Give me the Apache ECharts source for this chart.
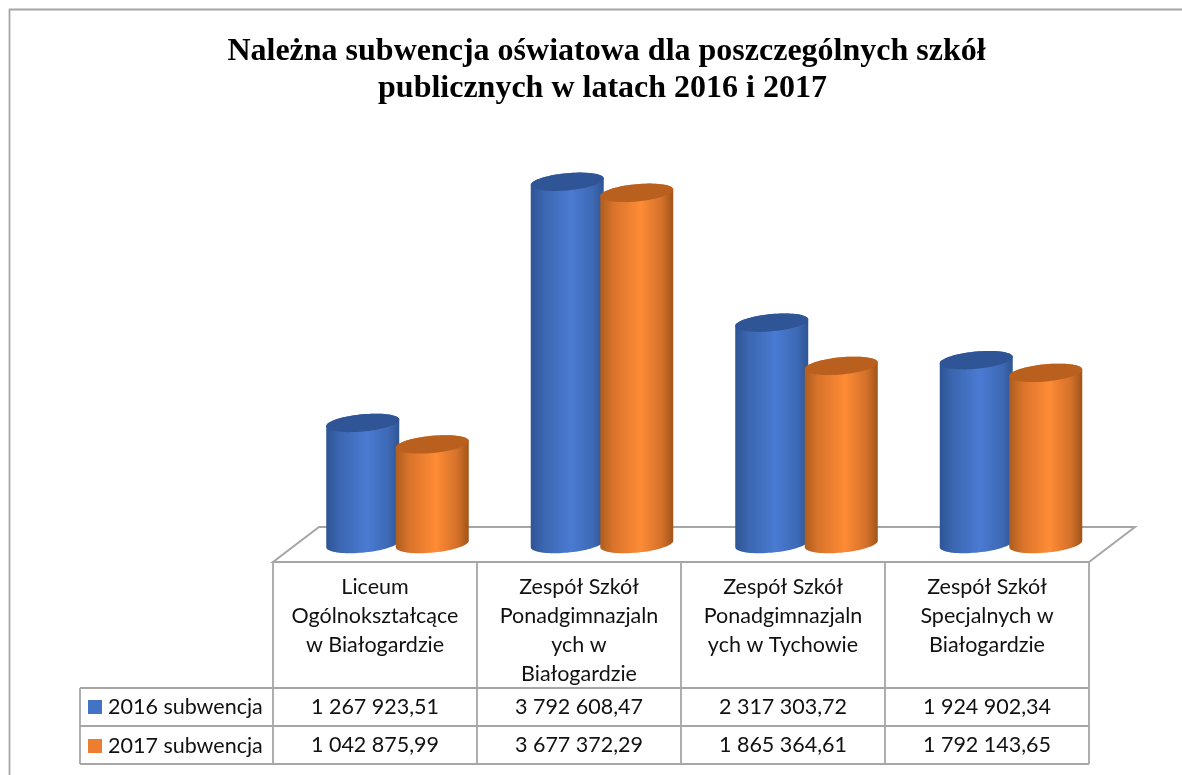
<!DOCTYPE html>
<html lang="pl">
<head>
<meta charset="utf-8">
<style>html,body{margin:0;padding:0;background:#fff}#c{width:1182px;height:775px}</style>
<script src="https://cdn.jsdelivr.net/npm/echarts@6/dist/echarts.min.js"></script>
</head>
<body>
<div id="c"></div>
<script>
const titleLines = ['Należna subwencja oświatowa dla poszczególnych szkół', 'publicznych w latach 2016 i 2017 '];
const categories = [
  'Liceum\nOgólnokształcące\nw Białogardzie',
  'Zespół Szkół\nPonadgimnazjaln\nych w\nBiałogardzie',
  'Zespół Szkół\nPonadgimnazjaln\nych w Tychowie',
  'Zespół Szkół\nSpecjalnych w\nBiałogardzie'
];
const seriesNames = ['2016 subwencja', '2017 subwencja'];
const values2016 = [1267923.51, 3792608.47, 2317303.72, 1924902.34];
const values2017 = [1042875.99, 3677372.29, 1865364.61, 1792143.65];

const GRID = '#a6a6a6';
const FONT = 'Lato, "Open Sans", sans-serif';
const TEXT = '#111';
const colX = [273, 477, 681, 885, 1089];
const rowY = [562, 688, 726, 764];
const legendLeft = 80;

function fmt(v) {
  const [i, d] = v.toFixed(2).split('.');
  return i.replace(/\B(?=(\d{3})+$)/g, ' ') + ',' + d;
}

function cylinder(values, side, stops, topColor) {
  return function (params, api) {
    const band = api.size([1, 0])[0];
    const top = api.coord([api.value(0), api.value(1)]);
    const base = api.coord([api.value(0), 0]);
    const cx = top[0] + side * 0.17 * band;
    const a = 0.1792 * band, b = 0.042 * band, th = 5.4 * Math.PI / 180;
    const t0 = Math.atan(b * Math.tan(th) / a);
    const pt = (cy, t) => [
      cx + a * Math.cos(t) * Math.cos(th) + b * Math.sin(t) * Math.sin(th),
      cy - a * Math.cos(t) * Math.sin(th) + b * Math.sin(t) * Math.cos(th)
    ];
    const N = 40, body = [], cap = [];
    for (let i = 0; i <= N; i++) body.push(pt(base[1], t0 + Math.PI * i / N));
    for (let i = 0; i <= N; i++) body.push(pt(top[1], t0 + Math.PI + Math.PI * i / N));
    for (let i = 0; i < 2 * N; i++) cap.push(pt(top[1], t0 + Math.PI * i / N));
    return {
      type: 'group',
      children: [
        { type: 'polygon', shape: { points: body },
          style: { fill: new echarts.graphic.LinearGradient(0, 0, 1, 0, stops) } },
        { type: 'polygon', shape: { points: cap }, style: { fill: topColor } }
      ]
    };
  };
}

const blueStops = [
  { offset: 0, color: '#2e5494' }, { offset: 0.18, color: '#3b66b0' },
  { offset: 0.55, color: '#4a7bd3' }, { offset: 0.85, color: '#3d69b5' },
  { offset: 1, color: '#2f5593' }
];
const orangeStops = [
  { offset: 0, color: '#ad5d1f' }, { offset: 0.18, color: '#d8732a' },
  { offset: 0.55, color: '#ff8b35' }, { offset: 0.85, color: '#d2702a' },
  { offset: 1, color: '#a05418' }
];

const line = (x1, y1, x2, y2) => ({
  type: 'line', z: -1, silent: true,
  shape: { x1, y1, x2, y2 },
  style: { stroke: GRID, lineWidth: 1.8 }
});
const txt = (text, x, y, va, lh) => ({
  type: 'text', x, y, silent: true,
  style: { text, fill: TEXT, font: '21.5px ' + FONT, align: 'center', verticalAlign: va, lineHeight: lh }
});

const elements = [
  line(9, 9.5, 1182, 9.5), line(9.5, 9, 9.5, 775),
  { type: 'polygon', z: -1, silent: true,
    shape: { points: [[colX[0], rowY[0]], [319, 527], [1135, 527], [colX[4], rowY[0]]] },
    style: { fill: '#fff', stroke: GRID, lineWidth: 2 } }
];
colX.forEach(x => elements.push(line(x, rowY[0], x, rowY[3])));
elements.push(line(legendLeft, rowY[1], legendLeft, rowY[3]));
rowY.forEach((y, i) => elements.push(line(i === 0 ? colX[0] : legendLeft, y, colX[4], y)));
categories.forEach((c, i) => {
  const x = (colX[i] + colX[i + 1]) / 2;
  elements.push(txt(c, x, 573, 'top', 29));
  elements.push(txt(fmt(values2016[i]), x, (rowY[1] + rowY[2]) / 2, 'middle', 22));
  elements.push(txt(fmt(values2017[i]), x, (rowY[2] + rowY[3]) / 2, 'middle', 22));
});

const chart = echarts.init(document.getElementById('c'), null, { renderer: 'canvas' });
chart.setOption({
  animation: false,
  backgroundColor: '#fff',
  title: {
    text: titleLines.join('\n'),
    left: 601.5, top: 28, textAlign: 'center',
    textStyle: { fontFamily: '"Liberation Serif", serif', fontWeight: 'bold', fontSize: 32, lineHeight: 37, color: '#000' }
  },
  grid: { left: 295.25, width: 818, top: 162, height: 382 },
  xAxis: { type: 'category', data: categories, show: false },
  yAxis: { type: 'value', min: 0, max: 4000000, show: false },
  legend: {
    orient: 'vertical', left: 88, top: 696, itemWidth: 14, itemHeight: 14, itemGap: 17,
    icon: 'rect', selectedMode: false, padding: 0,
    textStyle: { fontFamily: FONT, fontSize: 21.5, color: TEXT, lineHeight: 20, padding: [0, 0, 0, 1] },
    data: seriesNames
  },
  series: [
    { type: 'custom', name: seriesNames[0], itemStyle: { color: '#4472c4' }, z: 2,
      renderItem: cylinder(values2016, -1, blueStops, '#2f5597'),
      encode: { x: 0, y: 1 }, data: values2016.map((v, i) => [i, v]) },
    { type: 'custom', name: seriesNames[1], itemStyle: { color: '#ed7d31' }, z: 3,
      renderItem: cylinder(values2017, 1, orangeStops, '#b9601f'),
      encode: { x: 0, y: 1 }, data: values2017.map((v, i) => [i, v]) }
  ],
  graphic: { elements }
});
</script>
</body>
</html>
